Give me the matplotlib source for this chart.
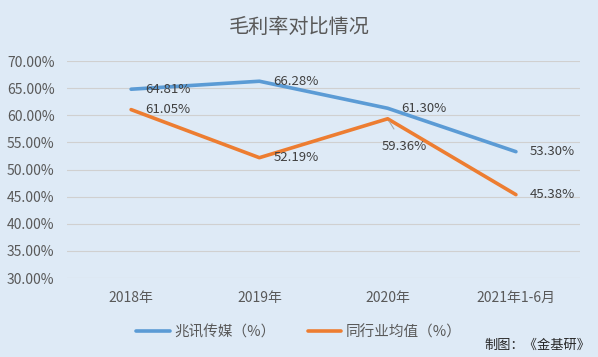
import matplotlib.pyplot as plt

plt.rcParams['font.family'] = ['Noto Sans CJK SC', 'DejaVu Sans']

categories = ['2018年', '2019年', '2020年', '2021年1-6月']
zhaoxun = [64.81, 66.28, 61.30, 53.30]
industry = [61.05, 52.19, 59.36, 45.38]
yticks = [30, 35, 40, 45, 50, 55, 60, 65, 70]

bg = '#DEEAF6'
txt = '#595959'
blue = '#5B9BD5'
orange = '#ED7D31'

fig = plt.figure(figsize=(5.98, 3.57), dpi=100, facecolor=bg)
ax = fig.add_axes([0.112, 0.221, 0.858, 0.608], facecolor=bg)

x = list(range(len(categories)))
ax.plot(x, zhaoxun, color=blue, lw=2.6, solid_capstyle='round', label='兆讯传媒（%）')
ax.plot(x, industry, color=orange, lw=2.6, solid_capstyle='round', label='同行业均值（%）')

ax.set_xlim(-0.5, len(categories) - 0.5)
ax.set_ylim(30, 70)
ax.set_yticks(yticks)
ax.set_yticklabels(['%.2f%%' % v for v in yticks])
ax.set_xticks(x)
ax.set_xticklabels(categories)
ax.tick_params(length=0, colors=txt, labelsize=10)
ax.tick_params(axis='x', pad=9)
ax.tick_params(axis='y', pad=9)
ax.grid(axis='y', color='#D0D0D0', lw=0.8)
ax.set_axisbelow(True)
for s in ax.spines.values():
    s.set_visible(False)

# data labels
for i, v in enumerate(zhaoxun):
    ax.annotate('%.2f%%' % v, (i, v), xytext=(10, 0), textcoords='offset points',
                va='center', ha='left', fontsize=9.5, color='#404040')
for i, v in enumerate(industry):
    if i == 2:
        ax.annotate('%.2f%%' % v, (i, v), xytext=(-4, -20), textcoords='offset points',
                    va='center', ha='left', fontsize=9.5, color='#404040',
                    arrowprops=dict(arrowstyle='-', color='#A6A6A6', lw=0.8,
                                    shrinkA=7, shrinkB=2))
    else:
        ax.annotate('%.2f%%' % v, (i, v), xytext=(10, 0), textcoords='offset points',
                    va='center', ha='left', fontsize=9.5, color='#404040')

fig.text(0.5, 0.924, '毛利率对比情况', ha='center', va='center', fontsize=14.5, color=txt)

leg = fig.legend(loc='center', bbox_to_anchor=(0.5, 0.07), ncol=2, frameon=False,
                 fontsize=10.5, handlelength=2.3, columnspacing=2.2, handletextpad=0.3,
                 labelcolor=txt)

fig.text(0.987, 0.034, '制图：《金基研》', ha='right', va='center', fontsize=9.5, color='#262626')

fig.savefig('out.png', dpi=100, facecolor=bg)
